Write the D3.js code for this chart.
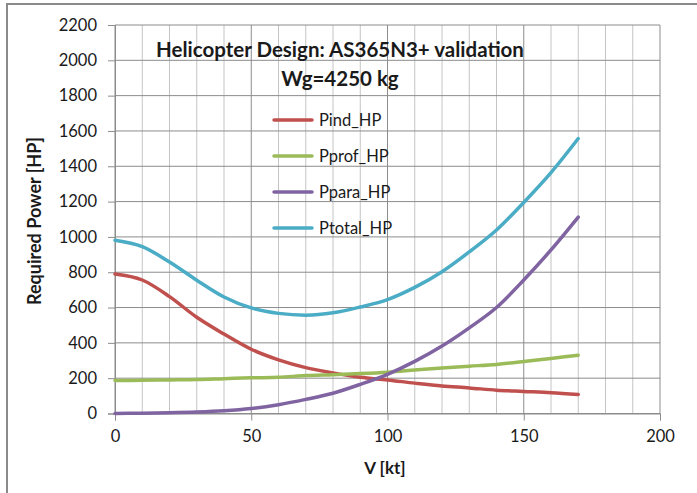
<!DOCTYPE html>
<html>
<head>
<meta charset="utf-8">
<script src="https://cdn.jsdelivr.net/npm/d3@7"></script>
<style>
  body { margin: 0; background: #fff; }
  text { font-family: Lato, "Open Sans", sans-serif; fill: #1a1a1a; }
</style>
</head>
<body>
<svg id="chart" width="697" height="493"></svg>
<script>
// speed in knots
var speeds = [0, 10, 20, 30, 40, 50, 60, 70, 80, 90, 100, 110, 120, 130, 140, 150, 160, 170];
// required power in HP
var pind   = [790, 756, 662, 545, 450, 364, 304, 260, 230, 205, 190, 172, 156, 145, 132, 125, 118, 108];
var pprof  = [187, 188, 190, 192, 197, 202, 205, 215, 220, 226, 234, 246, 258, 268, 278, 294, 312, 330];
var ppara  = [0, 2, 4, 8, 15, 28, 50, 80, 115, 165, 222, 295, 382, 485, 600, 756, 926, 1112];
var ptotal = [981, 945, 858, 755, 660, 598, 567, 557, 570, 603, 645, 714, 803, 915, 1039, 1195, 1364, 1557];
var seriesNames = ["Pind_HP", "Pprof_HP", "Ppara_HP", "Ptotal_HP"];
var seriesColors = ["#C0504D", "#9BBB59", "#8064A2", "#4BACC6"];
var xTicks = [0, 50, 100, 150, 200];
var yTicks = [0, 200, 400, 600, 800, 1000, 1200, 1400, 1600, 1800, 2000, 2200];

var svg = d3.select("#chart");

// outer chart frame
svg.append("rect")
  .attr("x", 7).attr("y", 4)
  .attr("width", 720).attr("height", 520)
  .attr("style", "fill: none; stroke: #8a8a8a; stroke-width: 2;");

var x = d3.scaleLinear().domain([0, 200]).range([115, 660]);
var y = d3.scaleLinear().domain([0, 2200]).range([413.5, 25]);

// minor vertical grid every 10 kt
var minor = d3.range(10, 200, 10).filter(function (v) { return v % 50 !== 0; });
svg.append("g").selectAll("line").data(minor).enter().append("line")
  .attr("x1", function (d) { return x(d); }).attr("x2", function (d) { return x(d); })
  .attr("y1", y(0)).attr("y2", y(2200))
  .attr("style", "stroke: #c4c4c4; stroke-width: 1;");

svg.append("g").selectAll("line").data(xTicks).enter().append("line")
  .attr("x1", function (d) { return x(d); }).attr("x2", function (d) { return x(d); })
  .attr("y1", y(0)).attr("y2", y(2200))
  .attr("style", "stroke: #8c8c8c; stroke-width: 1;");

svg.append("g").selectAll("line").data(yTicks).enter().append("line")
  .attr("x1", x(0)).attr("x2", x(200))
  .attr("y1", function (d) { return y(d); }).attr("y2", function (d) { return y(d); })
  .attr("style", "stroke: #8c8c8c; stroke-width: 1;");

// axes
var yAxis = svg.append("g")
  .attr("transform", "translate(" + x(0) + ",0)")
  .call(d3.axisLeft(y).tickValues(yTicks).tickFormat(d3.format("d")).tickSize(7).tickPadding(11));
var xAxis = svg.append("g")
  .attr("transform", "translate(0," + y(0) + ")")
  .call(d3.axisBottom(x).tickValues(xTicks).tickFormat(d3.format("d")).tickSize(7).tickPadding(10));
[xAxis, yAxis].forEach(function (ax) {
  ax.select(".domain").attr("stroke", "#8c8c8c");
  ax.selectAll(".tick line").attr("stroke", "#8c8c8c");
  ax.selectAll("text").attr("font-family", "Lato, sans-serif").attr("font-size", 16.5).attr("fill", "#1a1a1a");
});

// data lines
var allSeries = [pind, pprof, ppara, ptotal];
var line = d3.line()
  .x(function (d, i) { return x(speeds[i]); })
  .y(function (d) { return y(d); })
  .curve(d3.curveMonotoneX);
for (var s = 0; s < allSeries.length; s++) {
  svg.append("path")
    .datum(allSeries[s])
    .attr("d", line)
    .attr("style", "fill: none; stroke-width: 3.5; stroke-linejoin: round; stroke-linecap: round; stroke: " + seriesColors[s] + ";");
}

// title
svg.append("text")
  .attr("x", 340).attr("y", 57)
  .attr("text-anchor", "middle")
  .attr("style", "font-size: 20.5px; font-weight: bold;")
  .text("Helicopter Design: AS365N3+ validation");
svg.append("text")
  .attr("x", 340).attr("y", 86)
  .attr("text-anchor", "middle")
  .attr("style", "font-size: 20.5px; font-weight: bold;")
  .text("Wg=4250 kg");

// legend
for (var k = 0; k < seriesNames.length; k++) {
  var ly = 120 + k * 36;
  svg.append("line")
    .attr("x1", 274).attr("x2", 312)
    .attr("y1", ly).attr("y2", ly)
    .attr("style", "stroke-width: 3.5; stroke-linecap: round; stroke: " + seriesColors[k] + ";");
  svg.append("text")
    .attr("x", 319).attr("y", ly + 6)
    .attr("style", "font-size: 16.5px;")
    .text(seriesNames[k]);
}

// axis titles
svg.append("text")
  .attr("x", 385).attr("y", 474)
  .attr("text-anchor", "middle")
  .attr("style", "font-size: 17px; font-weight: bold;")
  .text("V [kt]");
svg.append("text")
  .attr("transform", "translate(41,221) rotate(-90)")
  .attr("text-anchor", "middle")
  .attr("style", "font-size: 18px; font-weight: bold;")
  .text("Required Power [HP]");
</script>
</body>
</html>
